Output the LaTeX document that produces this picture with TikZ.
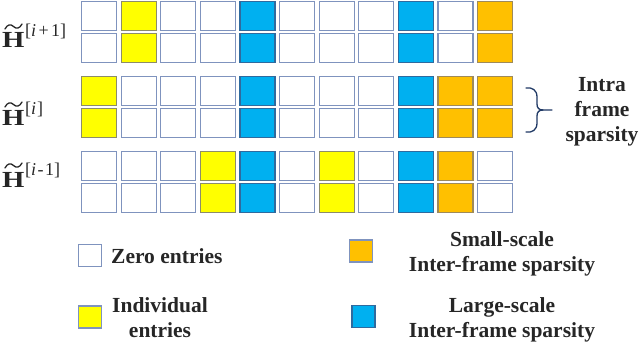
\documentclass[tikz,border=0pt]{standalone}
\usepackage{fontspec}
\setmainfont{Liberation Serif}
\usepackage{graphicx}
\definecolor{fw}{HTML}{FFFFFF}
\definecolor{fy}{HTML}{FFFF00}
\definecolor{fb}{HTML}{00B0F0}
\definecolor{fo}{HTML}{FFC000}
\definecolor{lw}{HTML}{7F93BE}
\definecolor{ly}{HTML}{8C8C6A}
\definecolor{lb}{HTML}{2F6A9E}
\definecolor{lo}{HTML}{9E8A5A}
\definecolor{txt}{HTML}{262626}
\definecolor{bracecol}{HTML}{1F3864}
\begin{document}
\begin{tikzpicture}[x=1pt,y=-1pt,
  cell/.style={draw, line width=1.2pt, minimum width=35pt, minimum height=29pt, inner sep=0pt, outer sep=0pt},
  legsq/.style={draw, line width=1.1pt, minimum width=23pt, minimum height=22pt, inner sep=0pt},
  legtext/.style={font=\fontsize{21.5}{25}\selectfont\bfseries, text=txt, inner sep=0pt, align=center},
  hlabel/.style={anchor=base west, inner sep=0pt, text=txt},
  tilde/.style={draw=txt, line width=1.3pt, line cap=round},
]
\useasboundingbox (0,0) rectangle (640,342);

% group 1: H^{[i+1]}
\foreach \c [count=\k from 0] in {w,y,w,w,b,w,w,w,b,w,o} {
  \node[cell, fill=f\c, draw=l\c] (g1a\k) at ({99+39.6*\k},16) {};
  \node[cell, fill=f\c, draw=l\c] (g1b\k) at ({99+39.6*\k},48) {};
}
% group 2: H^{[i]}
\foreach \c [count=\k from 0] in {y,w,w,w,b,w,w,w,b,o,o} {
  \node[cell, fill=f\c, draw=l\c] (g2a\k) at ({99+39.6*\k},91) {};
  \node[cell, fill=f\c, draw=l\c] (g2b\k) at ({99+39.6*\k},123) {};
}
% group 3: H^{[i-1]}
\foreach \c [count=\k from 0] in {w,w,w,y,b,w,y,w,b,o,w} {
  \node[cell, fill=f\c, draw=l\c] (g3a\k) at ({99+39.6*\k},166) {};
  \node[cell, fill=f\c, draw=l\c] (g3b\k) at ({99+39.6*\k},198) {};
}

% row labels
\newcommand{\myH}{{\fontsize{23}{23}\selectfont\bfseries\scalebox{1.25}[1]{H}}}
\newcommand{\mysup}[1]{\raisebox{11.5pt}{\fontsize{18}{18}\selectfont\hspace{0.5pt}#1}}
\node[hlabel] (lab1) at (2,48) {\myH\mysup{[\textit{i}\hspace{2.5pt}+\hspace{2.5pt}1]}};
\node[hlabel] (lab2) at (2,126) {\myH\mysup{[\textit{i}\hspace{1pt}]}};
\node[hlabel] (lab3) at (2,187) {\myH\mysup{[\textit{i}\hspace{1.5pt}-\hspace{1.5pt}1]}};
\foreach \yb in {48,126,187} {
  \draw[tilde] (5,\yb-19) .. controls (7.5,\yb-24) and (11,\yb-24) .. (13.5,\yb-21.5)
     .. controls (16,\yb-19) and (19.5,\yb-19) .. (22,\yb-24);
}

% brace
\coordinate (bt) at (526,88);
\coordinate (bb) at (526,132);
\coordinate (btip) at (552,110);
\draw[bracecol, line width=1.3pt, line cap=round]
  (bt) .. controls (532,87) and (537,90) .. (537,97) -- (537,104)
  .. controls (537,108) and (539,110) .. (543,110) -- (btip);
\draw[bracecol, line width=1.3pt, line cap=round]
  (bb) .. controls (532,133) and (537,130) .. (537,123) -- (537,116)
  .. controls (537,112) and (539,110) .. (543,110);
\node[legtext] (intra) at (602,112) {Intra\\frame\\sparsity};

% legend
\node[legsq, fill=fw, draw=lw] (sqw) at (90,255.5) {};
\node[legtext, anchor=base west] (tw) at (111,263) {Zero entries};
\node[legsq, fill=fy, draw=lw] (sqy) at (90,317) {};
\node[legtext] (ty) at (160,317.5) {Individual\\entries};
\node[legsq, fill=fo, draw=lw] (sqo) at (361,251) {};
\node[legtext] (to) at (502,253.6) {Small-scale\\Inter-frame sparsity};
\node[legsq, fill=fb, draw=lb] (sqb) at (363.5,316.5) {};
\node[legtext] (tb) at (502,319.5) {Large-scale\\Inter-frame sparsity};
\end{tikzpicture}
\end{document}
